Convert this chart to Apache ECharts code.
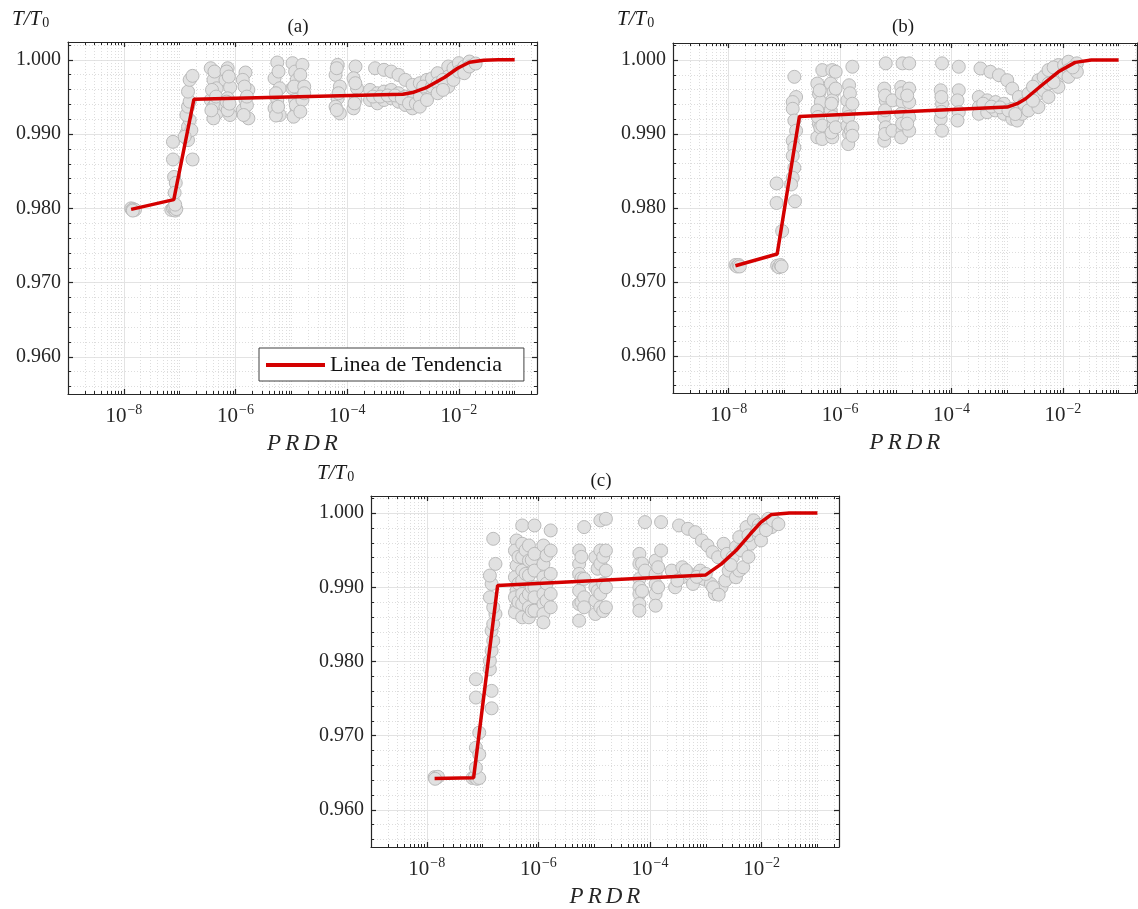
<!DOCTYPE html>
<html><head><meta charset="utf-8">
<script src="https://cdn.jsdelivr.net/npm/echarts@6/dist/echarts.min.js"></script>
<style>html,body{margin:0;padding:0;background:#fff}#c{width:1138px;height:909px}</style>
</head><body><div id="c"></div>
<script>
const FONT = '"Liberation Serif","Times New Roman",serif';
const seriesName = 'Linea de Tendencia';
const panelTitles = ['(a)', '(b)', '(c)'];
const xMajorExp = [-8, -6, -4, -2];
const yMajor = [0.96, 0.97, 0.98, 0.99, 1.0];
const yMinor = [0.956,0.958,0.962,0.964,0.966,0.968,0.972,0.974,0.976,0.978,0.982,0.984,0.986,0.988,0.992,0.994,0.996,0.998,1.002];

// ---- panel (a): [PRDR, T/T0]
const pointsA = [
 [1.35e-8,0.9800],[1.41e-8,0.9798],[1.48e-8,0.9799],[1.58e-8,0.9798],[1.45e-8,0.9797],
 [7.08e-8,0.9798],[7.59e-8,0.9800],[8.32e-8,0.9797],[7.94e-8,0.9802],[8.71e-8,0.9799],
 [7.59e-8,0.98896],[7.59e-8,0.98658],[7.94e-8,0.98423],[8.51e-8,0.98342],[8.13e-8,0.9821],[8.32e-8,0.9805],
 [1.70e-7,0.98658],
 [1.41e-7,0.98919],[1.32e-7,0.99009],[1.41e-7,0.99099],[1.51e-7,0.99189],[1.32e-7,0.99257],[1.41e-7,0.99369],
 [1.51e-7,0.99437],[1.41e-7,0.99572],[1.51e-7,0.9973],[1.70e-7,0.99784],[1.62e-7,0.99054],[1.23e-7,0.98964],
 [3.6e-7,0.99887],[4.03e-7,0.9973],[4.6e-7,0.99617],[3.6e-7,0.99459],[4.03e-7,0.99369],[4.6e-7,0.99279],[4.03e-7,0.99212],[3.8e-7,0.99595],[4.4e-7,0.9941],
 [4.2e-7,0.99842],[3.7e-7,0.9932],[4.5e-7,0.99505],
 [7.24e-7,0.99887],[6.6e-7,0.9973],[8.0e-7,0.99631],[7.24e-7,0.99482],[6.6e-7,0.99369],[8.0e-7,0.99257],[7.24e-7,0.9932],[6.9e-7,0.99842],
 [7.6e-7,0.99775],[6.9e-7,0.99437],[7.8e-7,0.9941],
 [1.51e-6,0.99829],[1.35e-6,0.9973],[1.7e-6,0.99595],[1.51e-6,0.99459],[1.35e-6,0.99324],[1.7e-6,0.99212],[1.6e-6,0.9939],
 [1.45e-6,0.9964],[1.6e-6,0.99505],[1.4e-6,0.99257],
 [5.6e-6,0.99964],[5.0e-6,0.99752],[6.2e-6,0.99617],[5.6e-6,0.99459],[5.0e-6,0.99347],[6.2e-6,0.99257],[5.3e-6,0.9925],
 [5.9e-6,0.99842],[5.3e-6,0.9955],[5.8e-6,0.99369],
 [1.05e-5,0.99955],[1.17e-5,0.99842],[1.25e-5,0.9973],[1.05e-5,0.99617],[1.17e-5,0.99459],[1.25e-5,0.99324],[1.1e-5,0.99234],
 [1.12e-5,0.9964],[1.2e-5,0.9939],
 [1.58e-5,0.99932],[1.45e-5,0.99797],[1.7e-5,0.9964],[1.58e-5,0.99459],[1.45e-5,0.99302],[1.7e-5,0.9955],
 [6.76e-5,0.99932],[6.2e-5,0.99797],[7.4e-5,0.9964],[6.76e-5,0.99482],[6.2e-5,0.99369],[7.4e-5,0.99279],
 [6.5e-5,0.99887],[7.0e-5,0.9955],[6.5e-5,0.99324],
 [1.41e-4,0.9991],[1.3e-4,0.99752],[1.5e-4,0.99617],[1.41e-4,0.99459],[1.3e-4,0.99347],[1.4e-4,0.99685],[1.35e-4,0.99414],
 [3.16e-4,0.99887],[4.57e-4,0.99865],[6.17e-4,0.99842],[8.3e-4,0.99797],[1.1e-3,0.9973],[1.48e-3,0.99662],
 [2.57e-4,0.99595],[2.57e-4,0.99459],[3.47e-4,0.9955],[3.47e-4,0.99414],[4.57e-4,0.99572],[4.57e-4,0.99459],
 [6.17e-4,0.99595],[6.17e-4,0.99482],[8.3e-4,0.9955],[8.3e-4,0.99437],[1.1e-3,0.99505],[1.1e-3,0.99392],[1.48e-3,0.99459],[1.48e-3,0.99347],
 [2.9e-4,0.99505],[3.9e-4,0.99505],[5.3e-4,0.9952],[7.2e-4,0.9952],[9.5e-4,0.99482],[1.28e-3,0.99414],[1.7e-3,0.9941],
 [2.0e-3,0.99685],[2.0e-3,0.99505],[2.0e-3,0.99369],[2.69e-3,0.9973],[2.69e-3,0.99595],[2.69e-3,0.99459],
 [2.3e-3,0.9964],[3.3e-3,0.9964],[3.3e-3,0.9975],
 [4.17e-3,0.9982],[4.17e-3,0.99685],[4.17e-3,0.9955],[6.46e-3,0.9991],[6.46e-3,0.99775],[6.46e-3,0.9964],
 [5.2e-3,0.9973],[5.2e-3,0.99595],[8e-3,0.99887],[8e-3,0.9973],
 [1.0e-2,0.99955],[1.0e-2,0.99842],[1.25e-2,0.9991],[1.25e-2,0.9982],[1.55e-2,0.99977],[1.55e-2,0.9991],[2.0e-2,0.9995]
];
const trendA = [[1.35e-8,0.97986],[7.85e-8,0.98118],[1.8e-7,0.99469],[1e-3,0.99536],[1.48e-3,0.99559],[2.69e-3,0.9963],
 [5.6e-3,0.99766],[9.5e-3,0.99887],[1.55e-2,0.99968],[2.8e-2,0.99995],[5e-2,1.0],[1e-1,1.0]];

// ---- panel (b)
const pointsB = [
 [1.32e-8,0.9723],[1.41e-8,0.9721],[1.51e-8,0.9723],[1.58e-8,0.9721],
 [7.41e-8,0.9722],[7.94e-8,0.9720],[8.51e-8,0.9723],[8.91e-8,0.9721],
 [9.12e-8,0.97689],[7.24e-8,0.98332],[7.24e-8,0.98068],[1.55e-7,0.98091],
 [1.51e-7,0.99773],[1.62e-7,0.995],[1.41e-7,0.99432],[1.41e-7,0.99341],[1.51e-7,0.99182],[1.62e-7,0.99045],
 [1.41e-7,0.98909],[1.51e-7,0.98818],[1.41e-7,0.98705],[1.51e-7,0.98545],[1.41e-7,0.98409],[1.32e-7,0.98318],
 [3.9e-7,0.99682],[4.17e-7,0.99545],[4.5e-7,0.99432],[3.9e-7,0.99318],[4.17e-7,0.99136],[4.5e-7,0.99045],[3.9e-7,0.98955],
 [4.3e-7,0.9959],[4.0e-7,0.9923],[4.4e-7,0.9909],
 [4.79e-7,0.99864],[4.79e-7,0.99114],[4.79e-7,0.98932],
 [7.24e-7,0.99864],[6.8e-7,0.99682],[7.6e-7,0.99568],[7.24e-7,0.99455],[6.8e-7,0.99318],[7.6e-7,0.99114],[7.24e-7,0.98955],
 [7.0e-7,0.9941],[7.4e-7,0.9923],[7.0e-7,0.9902],
 [8.32e-7,0.99841],[8.32e-7,0.99614],[8.32e-7,0.99091],
 [1.45e-6,0.99659],[1.35e-6,0.99455],[1.45e-6,0.99318],[1.35e-6,0.99114],[1.45e-6,0.99],[1.4e-6,0.98864],
 [1.5e-6,0.9955],[1.4e-6,0.9923],[1.55e-6,0.9905],
 [1.66e-6,0.99909],[1.66e-6,0.99409],[1.66e-6,0.99091],[1.66e-6,0.98977],
 [6.6e-6,0.99955],[6.2e-6,0.99614],[6.6e-6,0.99455],[6.2e-6,0.99227],[6.6e-6,0.99091],[6.2e-6,0.98909],
 [6.4e-6,0.9952],[6.4e-6,0.9932],[6.4e-6,0.9900],
 [8.7e-6,0.99455],[8.7e-6,0.99045],
 [1.32e-5,0.99955],[1.25e-5,0.99636],[1.32e-5,0.99432],[1.25e-5,0.99273],[1.32e-5,0.99045],[1.25e-5,0.98955],
 [1.28e-5,0.9955],[1.3e-5,0.9914],
 [1.74e-5,0.99955],[1.74e-5,0.99614],[1.74e-5,0.99432],[1.74e-5,0.99227],[1.74e-5,0.99045],
 [1.6e-5,0.9952],[1.6e-5,0.9914],
 [6.76e-5,0.99955],[6.4e-5,0.99591],[6.76e-5,0.99409],[6.4e-5,0.99205],[6.76e-5,0.99045],
 [6.6e-5,0.9950],[6.6e-5,0.9930],
 [1.35e-4,0.99909],[1.35e-4,0.99591],[1.28e-4,0.99455],[1.35e-4,0.99295],[1.28e-4,0.99182],
 [3.31e-4,0.99886],[5.0e-4,0.99841],[7.1e-4,0.99795],[1.0e-3,0.99727],[1.23e-3,0.99614],[1.62e-3,0.995],
 [3.09e-4,0.995],[3.09e-4,0.99364],[3.09e-4,0.99273],[4.37e-4,0.99455],[4.37e-4,0.99295],[6.17e-4,0.99432],[6.17e-4,0.99318],
 [8.7e-4,0.99409],[8.7e-4,0.99273],[1.23e-3,0.99341],[1.23e-3,0.99205],[1.51e-3,0.99182],[1.86e-3,0.99273],
 [3.7e-4,0.9941],[5.2e-4,0.9937],[7.4e-4,0.9936],[1.05e-3,0.9932],[1.4e-3,0.9927],[2.0e-3,0.9941],
 [2.4e-3,0.99545],[2.4e-3,0.99318],[3.63e-3,0.99727],[3.63e-3,0.99545],[3.63e-3,0.99364],
 [2.9e-3,0.9964],[2.9e-3,0.9945],[4.5e-3,0.9977],[4.5e-3,0.9959],
 [5.5e-3,0.99864],[5.5e-3,0.99682],[5.5e-3,0.995],[8.3e-3,0.99932],[8.3e-3,0.99773],[8.3e-3,0.99636],
 [6.8e-3,0.9990],[6.8e-3,0.9970],[1.05e-2,0.9993],[1.05e-2,0.9982],
 [1.26e-2,0.99977],[1.26e-2,0.99864],[1.26e-2,0.99773],[1.78e-2,0.99955],[1.78e-2,0.99841],[1.5e-2,0.9990]
];
const trendB = [[1.32e-8,0.9722],[7.41e-8,0.97378],[1.86e-7,0.99236],[1e-3,0.99364],[1.51e-3,0.9941],[2.14e-3,0.99477],
 [4.17e-3,0.99659],[8.3e-3,0.99841],[1.66e-2,0.99968],[3.24e-2,1.0],[1e-1,1.0]];

// ---- panel (c)
const pointsC = [
 [1.38e-8,0.96441],[1.48e-8,0.9643],[1.58e-8,0.96446],[1.41e-8,0.96419],
 [6.6e-8,0.9643],[7.24e-8,0.96441],[7.94e-8,0.96419],[8.71e-8,0.9643],
 [7.59e-8,0.96838],[8.71e-8,0.96748],[7.59e-8,0.96568],[8.71e-8,0.97041],[7.59e-8,0.97514],[7.59e-8,0.97761],
 [1.45e-7,0.97369],[1.45e-7,0.97604],[1.35e-7,0.97896],[1.35e-7,0.98009],[1.45e-7,0.98144],[1.55e-7,0.98279],
 [1.45e-7,0.98414],[1.55e-7,0.98505],[1.70e-7,0.9864],[1.55e-7,0.9873],[1.35e-7,0.98865],[1.45e-7,0.99045],
 [1.35e-7,0.99158],[1.70e-7,0.99315],[1.55e-7,0.99653],
 [4.07e-7,0.99631],[3.8e-7,0.99495],[4.07e-7,0.99293],[3.8e-7,0.99135],[4.07e-7,0.98955],[3.8e-7,0.98865],[4.07e-7,0.9873],[3.8e-7,0.98662],
 [4.4e-7,0.9941],[4.4e-7,0.9905],[4.4e-7,0.9880],
 [5.13e-7,0.99833],[5.13e-7,0.99586],[5.13e-7,0.99405],[5.13e-7,0.99225],[5.13e-7,0.9909],[5.13e-7,0.9891],[5.13e-7,0.98775],[5.13e-7,0.98595],
 [5.9e-7,0.9950],[5.9e-7,0.9918],[5.9e-7,0.9885],
 [6.76e-7,0.99563],[6.76e-7,0.9936],[6.76e-7,0.99158],[6.76e-7,0.9891],[6.76e-7,0.9873],[6.76e-7,0.98595],
 [7.6e-7,0.9937],[7.6e-7,0.9900],[7.6e-7,0.9868],
 [8.5e-7,0.99833],[8.5e-7,0.9945],[8.5e-7,0.99225],[8.5e-7,0.99],[8.5e-7,0.98865],[8.5e-7,0.98685],
 [1.23e-6,0.99563],[1.23e-6,0.99315],[1.23e-6,0.99135],[1.23e-6,0.9891],[1.23e-6,0.98775],[1.23e-6,0.9864],[1.23e-6,0.98527],
 [1.4e-6,0.9943],[1.4e-6,0.9905],[1.4e-6,0.9882],
 [1.66e-6,0.99766],[1.66e-6,0.99495],[1.66e-6,0.9918],[1.66e-6,0.9891],[1.66e-6,0.9873],
 [5.37e-6,0.99495],[5.37e-6,0.99315],[5.37e-6,0.9918],[5.37e-6,0.98955],[5.37e-6,0.98775],[5.37e-6,0.9855],
 [5.9e-6,0.9941],[5.9e-6,0.9912],[5.9e-6,0.9880],
 [6.6e-6,0.99811],[6.6e-6,0.99113],[6.6e-6,0.98865],[6.6e-6,0.9873],
 [1.05e-5,0.99405],[1.05e-5,0.99],[1.05e-5,0.9882],[1.05e-5,0.9864],
 [1.15e-5,0.9925],[1.15e-5,0.9895],
 [1.29e-5,0.99901],[1.29e-5,0.99495],[1.29e-5,0.99315],[1.29e-5,0.9891],[1.29e-5,0.9873],
 [1.45e-5,0.9941],[1.45e-5,0.9905],[1.45e-5,0.9868],
 [1.62e-5,0.99923],[1.62e-5,0.99495],[1.62e-5,0.99225],[1.62e-5,0.99],[1.62e-5,0.9873],
 [6.46e-5,0.9945],[6.46e-5,0.99315],[6.46e-5,0.99113],[6.46e-5,0.99],[6.46e-5,0.9891],[6.46e-5,0.98775],[6.46e-5,0.98685],
 [7.2e-5,0.9932],[7.2e-5,0.9895],
 [8.13e-5,0.99878],[8.13e-5,0.99225],
 [1.26e-4,0.9936],[1.26e-4,0.9918],[1.26e-4,0.99045],[1.26e-4,0.9891],[1.26e-4,0.98752],
 [1.4e-4,0.9927],[1.4e-4,0.9900],
 [1.58e-4,0.99878],[1.58e-4,0.99495],
 [3.31e-4,0.99833],[4.79e-4,0.99788],[6.46e-4,0.99743],[8.5e-4,0.99631],[1.07e-3,0.99563],[1.32e-3,0.99473],[1.66e-3,0.99405],
 [2.45e-4,0.99225],[2.82e-4,0.99],[3.8e-4,0.9927],[3.8e-4,0.99135],[5.13e-4,0.9918],[5.89e-4,0.99045],[7.94e-4,0.99225],
 [9.12e-4,0.99113],[1.23e-3,0.99045],[1.45e-3,0.9891],[1.91e-3,0.99],[2.24e-3,0.9909],
 [3.1e-4,0.9909],[4.4e-4,0.9923],[6.9e-4,0.9914],[1.0e-3,0.9918],[1.35e-3,0.9900],[1.7e-3,0.9890],
 [2.57e-3,0.99225],[2.09e-3,0.99586],[2.4e-3,0.9945],[3.02e-3,0.99405],[3.47e-3,0.99541],[3.47e-3,0.99135],
 [3.98e-3,0.99676],[3.98e-3,0.99225],[4.68e-3,0.9927],[5.37e-3,0.99811],[6.31e-3,0.99586],[7.24e-3,0.99901],
 [2.8e-3,0.9930],[4.3e-3,0.9950],[5.8e-3,0.9970],[5.8e-3,0.9941],[8.9e-3,0.9984],[8.9e-3,0.9970],
 [8.32e-3,0.99766],[9.77e-3,0.99631],[1.12e-2,0.99856],[1.32e-2,0.99923],[1.51e-2,0.99811],[1.74e-2,0.99878],
 [1.2e-2,0.9977],[1.6e-2,0.9990],[2.0e-2,0.9985]
];
const trendC = [[1.38e-8,0.96423],[6.9e-8,0.96432],[1.86e-7,0.99023],[1e-3,0.99167],[1.91e-3,0.99315],[3.47e-3,0.99495],
 [6.31e-3,0.99721],[9.77e-3,0.99878],[1.51e-2,0.99982],[3.16e-2,1.0],[1e-1,1.0]];

const panels = [
  {pts: pointsA, trend: trendA, grid: {left: 68, top: 42, width: 469, height: 352}, xmax: -0.6, ymax: 1.0024,
   title: [298, 27], tt: [12, 19]},
  {pts: pointsB, trend: trendB, grid: {left: 673, top: 43, width: 464, height: 350}, xmax: -0.67, ymax: 1.0023,
   title: [903, 27], tt: [617, 19]},
  {pts: pointsC, trend: trendC, grid: {left: 371, top: 496, width: 468, height: 351}, xmax: -0.613, ymax: 1.0023,
   title: [601, 481], tt: [317, 473]}
];

const AX = '#262626';
const option = {animation: false, backgroundColor: '#fff', grid: [], xAxis: [], yAxis: [], series: [], graphic: [],
  legend: {show: true, data: [{name: seriesName, icon: 'rect'}], left: 259, top: 348, padding: [6, 22, 5, 7], itemWidth: 59, itemHeight: 4, itemGap: 5,
    backgroundColor: '#fff', borderColor: '#404040', borderWidth: 1, borderRadius: 0, selectedMode: false,
    textStyle: {fontFamily: FONT, fontSize: 22, color: '#111'}}
};

panels.forEach((p, g) => {
  const xMinor = [];
  for (let n = -9; n <= -1; n++) {
    for (let k = 1; k <= 9; k++) {
      if (k === 1 && n % 2 === 0) continue;
      const v = n + Math.log10(k);
      if (v > -9 && v < p.xmax) xMinor.push(v);
    }
  }
  option.grid.push(Object.assign({containLabel: false}, p.grid));
  const cx = {type: 'value', gridIndex: g, min: -9, max: p.xmax};
  const cy = {type: 'value', gridIndex: g, min: 0.955, max: p.ymax};
  const line = {color: AX, width: 1.2};
  const minorGrid = {color: '#dddddd', width: 1, type: [1, 2]};
  option.xAxis.push(Object.assign({}, cx, {position: 'bottom',
    axisLine: {show: true, onZero: false, lineStyle: line},
    axisTick: {show: true, inside: true, length: 5, customValues: xMajorExp, lineStyle: line},
    axisLabel: {show: true, customValues: xMajorExp, margin: 9,
      formatter: v => '{b|10}{s|\u2212' + Math.abs(Math.round(v)) + '}',
      rich: {b: {fontFamily: FONT, fontSize: 21, color: AX}, s: {fontFamily: FONT, fontSize: 14, color: AX, padding: [0, 0, 13, 1]}}},
    splitLine: {show: true, lineStyle: {color: '#e3e3e3', width: 1}},
    name: '{m|P}{m|R}{m|D}{m|R}', nameLocation: 'middle', nameGap: 38,
    nameTextStyle: {rich: {m: {fontFamily: FONT, fontStyle: 'italic', fontSize: 23, color: AX, padding: [0, 2, 0, 2]}}}
  }));
  option.xAxis.push(Object.assign({}, cx, {position: 'bottom',
    axisLine: {show: false, onZero: false},
    axisTick: {show: true, inside: true, length: 3, customValues: xMinor, lineStyle: {color: AX, width: 1}},
    axisLabel: {show: false},
    splitLine: {show: true, lineStyle: minorGrid}}));
  option.xAxis.push(Object.assign({}, cx, {position: 'top',
    axisLine: {show: true, onZero: false, lineStyle: line},
    axisTick: {show: true, inside: true, length: 5, customValues: xMajorExp, lineStyle: line},
    axisLabel: {show: false}, splitLine: {show: false}}));
  option.xAxis.push(Object.assign({}, cx, {position: 'top',
    axisLine: {show: false, onZero: false},
    axisTick: {show: true, inside: true, length: 3, customValues: xMinor, lineStyle: {color: AX, width: 1}},
    axisLabel: {show: false}, splitLine: {show: false}}));

  option.yAxis.push(Object.assign({}, cy, {position: 'left',
    axisLine: {show: true, onZero: false, lineStyle: line},
    axisTick: {show: true, inside: true, length: 5, customValues: yMajor, lineStyle: line},
    axisLabel: {show: true, customValues: yMajor, margin: 7, formatter: v => v.toFixed(3),
      fontFamily: FONT, fontSize: 20, color: AX},
    splitLine: {show: true, lineStyle: {color: '#e3e3e3', width: 1}}}));
  option.yAxis.push(Object.assign({}, cy, {position: 'left',
    axisLine: {show: false, onZero: false},
    axisTick: {show: true, inside: true, length: 3, customValues: yMinor, lineStyle: {color: AX, width: 1}},
    axisLabel: {show: false},
    splitLine: {show: true, lineStyle: minorGrid}}));
  option.yAxis.push(Object.assign({}, cy, {position: 'right',
    axisLine: {show: true, onZero: false, lineStyle: line},
    axisTick: {show: true, inside: true, length: 5, customValues: yMajor, lineStyle: line},
    axisLabel: {show: false}, splitLine: {show: false}}));
  option.yAxis.push(Object.assign({}, cy, {position: 'right',
    axisLine: {show: false, onZero: false},
    axisTick: {show: true, inside: true, length: 3, customValues: yMinor, lineStyle: {color: AX, width: 1}},
    axisLabel: {show: false}, splitLine: {show: false}}));

  option.series.push({type: 'scatter', xAxisIndex: 4 * g, yAxisIndex: 4 * g, silent: true, z: 2,
    data: p.pts.map(d => [Math.log10(d[0]), d[1]]), symbol: 'circle', symbolSize: 13,
    itemStyle: {color: '#e1e1e1', borderColor: '#bababa', borderWidth: 1, opacity: 1}});
  option.series.push({type: 'line', name: seriesName, xAxisIndex: 4 * g, yAxisIndex: 4 * g, z: 3,
    data: p.trend.map(d => [Math.log10(d[0]), d[1]]), symbol: 'none', showSymbol: false,
    lineStyle: {color: '#d40000', width: 3.5}, itemStyle: {color: '#d40000'}});

  option.graphic.push({type: 'text', x: p.title[0], y: p.title[1], silent: true,
    style: {text: panelTitles[g], font: '19px ' + FONT, fill: '#1a1a1a', textAlign: 'center', textVerticalAlign: 'middle'}});
  option.graphic.push({type: 'text', x: p.tt[0], y: p.tt[1], silent: true,
    style: {text: '{i|T/T}{s|0}', textAlign: 'left', textVerticalAlign: 'middle',
      rich: {i: {fontFamily: FONT, fontStyle: 'italic', fontSize: 21, fill: '#1a1a1a'},
             s: {fontFamily: FONT, fontSize: 14, fill: '#1a1a1a', padding: [9, 0, 0, 1]}}}});
});

const chart = echarts.init(document.getElementById('c'), null, {renderer: 'canvas'});
chart.setOption(option);
</script></body></html>
